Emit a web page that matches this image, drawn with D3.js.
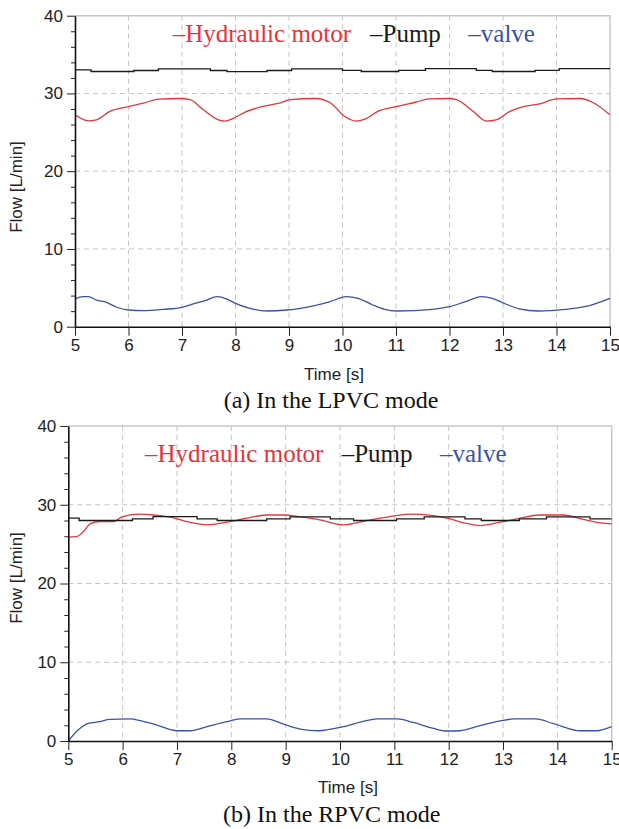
<!DOCTYPE html>
<html>
<head>
<meta charset="utf-8">
<script src="https://cdn.jsdelivr.net/npm/d3@7"></script>
<style>
  body { margin: 0; background: #fff; }
  svg { display: block; }
  .tick text { font-family: 'Liberation Sans', Arial, sans-serif; font-size: 17px; fill: #222; }
</style>
</head>
<body>
<svg id="chart" width="619" height="829"></svg>
<script>
// time axis ticks [s] and flow ticks [L/min]
const timeTicks = [5, 6, 7, 8, 9, 10, 11, 12, 13, 14, 15]
const flowTicks = [0, 10, 20, 30, 40]
const flowMinorTicks = [2, 4, 6, 8, 12, 14, 16, 18, 22, 24, 26, 28, 32, 34, 36, 38]
const seriesNames = ['Hydraulic motor', 'Pump', 'valve']
const seriesColors = ['#e8333b', '#1a1a1a', '#3a52a6']

// (a) LPVC mode, [time, flow]
const lpvcMotor = [[5.0,27.25],[5.25,26.47],[5.4,26.6],[5.65,27.7],[6.0,28.3],[6.28,28.75],[6.56,29.27],[6.97,29.35],[7.15,29.2],[7.4,27.9],[7.68,26.6],[7.8,26.45],[7.96,26.8],[8.18,27.6],[8.52,28.35],[8.84,28.8],[9.03,29.2],[9.49,29.35],[9.77,28.8],[10.05,27.0],[10.26,26.45],[10.45,26.8],[10.66,27.7],[11.0,28.3],[11.38,28.9],[11.62,29.3],[11.98,29.35],[12.13,29.2],[12.44,27.7],[12.69,26.45],[12.87,26.6],[13.13,27.7],[13.38,28.3],[13.69,28.65],[14.0,29.3],[14.44,29.35],[14.69,28.8],[15.0,27.25]]
const lpvcPump = [[5.0,33.03],[5.3,32.82],[6.1,32.95],[6.56,33.17],[7.53,32.95],[7.84,32.8],[8.59,32.95],[9.05,33.17],[10.0,32.98],[10.35,32.82],[11.05,32.98],[11.55,33.2],[12.5,32.98],[12.8,32.82],[13.6,32.98],[14.05,33.2],[15.0,33.2]]
const lpvcValve = [[5.0,3.56],[5.15,3.86],[5.25,3.86],[5.4,3.43],[5.59,3.14],[5.78,2.5],[6.0,2.15],[6.28,2.06],[6.65,2.23],[7.0,2.5],[7.21,2.92],[7.46,3.43],[7.65,3.86],[7.84,3.56],[8.0,3.0],[8.27,2.36],[8.59,2.02],[8.96,2.15],[9.21,2.36],[9.5,2.75],[9.77,3.22],[10.07,3.86],[10.29,3.65],[10.57,2.79],[10.79,2.23],[11.0,2.02],[11.69,2.23],[12.0,2.57],[12.3,3.22],[12.6,3.86],[12.8,3.65],[13.05,2.92],[13.3,2.3],[13.67,2.02],[14.16,2.23],[14.53,2.57],[15.0,3.65]]

// (b) RPVC mode
const rpvcMotor = [[5.0,25.88],[5.15,25.96],[5.28,26.6],[5.4,27.57],[5.58,27.87],[5.83,27.87],[6.0,28.5],[6.32,28.8],[6.56,28.7],[6.87,28.42],[7.18,27.87],[7.55,27.45],[7.92,27.79],[8.28,28.3],[8.65,28.7],[8.96,28.7],[9.27,28.45],[9.63,28.08],[10.06,27.45],[10.49,28.0],[11.04,28.63],[11.28,28.8],[11.72,28.63],[12.03,28.2],[12.28,27.7],[12.58,27.36],[12.95,27.79],[13.25,28.2],[13.68,28.7],[14.11,28.7],[14.48,28.15],[14.79,27.7],[15.0,27.58]]
const rpvcPump = [[5.0,28.3],[5.2,28.0],[6.18,28.2],[6.56,28.5],[7.37,28.2],[7.74,28.0],[8.65,28.2],[9.08,28.45],[9.82,28.2],[10.25,28.0],[11.04,28.2],[11.55,28.45],[12.3,28.2],[12.6,28.0],[13.3,28.2],[13.8,28.45],[14.6,28.2],[15.0,28.2]]
const rpvcValve = [[5.0,0],[5.18,1.4],[5.37,2.25],[5.58,2.45],[5.76,2.75],[6.14,2.8],[6.32,2.6],[6.63,2.03],[7.0,1.3],[7.24,1.3],[7.55,1.82],[7.92,2.45],[8.16,2.8],[8.65,2.8],[8.96,2.15],[9.27,1.52],[9.6,1.3],[10.06,1.82],[10.49,2.6],[10.7,2.8],[11.05,2.8],[11.35,2.35],[11.72,1.6],[11.96,1.27],[12.2,1.3],[12.58,1.95],[12.95,2.55],[13.2,2.8],[13.6,2.8],[13.93,2.2],[14.42,1.3],[14.72,1.3],[15.0,1.82]]

const panels = [
  { left: 75, right: 610, top: 15.7, bottom: 326.7,
    legendX: [172.7, 370, 468.3], legendY: 42,
    flowLabelY: 187, timeX: 334, timeY: 380, caption: '(a) In the LPVC mode', captionX: 331, captionY: 408,
    series: [lpvcMotor, lpvcPump, lpvcValve] },
  { left: 68.3, right: 611.7, top: 426, bottom: 741,
    legendX: [145, 341.7, 440], legendY: 462,
    flowLabelY: 578, timeX: 348, timeY: 793, caption: '(b) In the RPVC mode', captionX: 331.7, captionY: 822,
    series: [rpvcMotor, rpvcPump, rpvcValve] }
]

const svg = d3.select('#chart')

panels.forEach(p => {
  const x = d3.scaleLinear().domain([5, 15]).range([p.left, p.right])
  const y = d3.scaleLinear().domain([0, 40]).range([p.bottom, p.top])
  const g = svg.append('g')

  // grid
  g.append('g').selectAll('line.vg').data(timeTicks.slice(1, -1))
    .enter().append('line')
      .attr('x1', d => x(d)).attr('x2', d => x(d))
      .attr('y1', p.top).attr('y2', p.bottom)
      .attr('stroke', '#c4c4c4').attr('stroke-dasharray', '5,4')
  g.append('g').selectAll('line.hg').data(flowTicks.slice(1, -1))
    .enter().append('line')
      .attr('x1', p.left).attr('x2', p.right)
      .attr('y1', d => y(d)).attr('y2', d => y(d))
      .attr('stroke', '#c4c4c4').attr('stroke-dasharray', '5,4')

  // top / right frame
  g.append('path')
    .attr('d', `M${p.left},${y(40)}H${x(15)}V${p.bottom}`)
    .attr('fill', 'none').attr('stroke', '#c8c8c8').attr('stroke-width', 1.5)

  // series
  const curves = [d3.curveMonotoneX, d3.curveStepAfter, d3.curveMonotoneX]
  p.series.forEach((s, i) => {
    const line = d3.line().x(d => x(d[0])).y(d => y(d[1])).curve(curves[i])
    g.append('path').datum(s)
      .attr('d', line)
      .attr('fill', 'none')
      .attr('stroke', seriesColors[i])
      .attr('stroke-width', 1.3)
  })

  // axes
  g.append('g')
    .attr('transform', `translate(${p.left},0)`)
    .call(d3.axisLeft(y).tickValues(flowMinorTicks).tickSize(4).tickFormat(''))
    .call(a => a.select('.domain').remove())
  g.append('g')
    .attr('transform', `translate(${p.left},0)`)
    .call(d3.axisLeft(y).tickValues(flowTicks).tickSize(8).tickPadding(4).tickSizeOuter(0))
  g.append('g')
    .attr('transform', `translate(0,${p.bottom})`)
    .call(d3.axisBottom(x).tickValues(timeTicks).tickSize(9).tickPadding(3).tickSizeOuter(0))
  g.selectAll('.domain').attr('stroke', '#111').attr('stroke-width', 1.6)
  g.selectAll('.tick line').attr('stroke', '#222')

  // axis titles
  g.append('text')
    .attr('transform', `translate(22,${p.flowLabelY}) rotate(-90)`)
    .attr('text-anchor', 'middle')
    .attr('font-family', "'Liberation Sans', Arial, sans-serif")
    .attr('font-size', 17).attr('fill', '#222')
    .text('Flow [L/min]')
  g.append('text')
    .attr('x', p.timeX).attr('y', p.timeY)
    .attr('text-anchor', 'middle')
    .attr('font-family', "'Liberation Sans', Arial, sans-serif")
    .attr('font-size', 17).attr('fill', '#222')
    .text('Time [s]')

  // legend
  g.append('g').selectAll('text').data(seriesNames)
    .enter().append('text')
      .attr('x', (d, i) => p.legendX[i]).attr('y', p.legendY)
      .attr('font-family', "'Liberation Serif', 'Times New Roman', serif")
      .attr('font-size', 25)
      .attr('fill', (d, i) => seriesColors[i])
      .text(d => '\u2013' + d)

  // caption
  g.append('text')
    .attr('x', p.captionX).attr('y', p.captionY)
    .attr('text-anchor', 'middle')
    .attr('font-family', "'Liberation Serif', 'Times New Roman', serif")
    .attr('font-size', 24).attr('fill', '#111')
    .text(p.caption)
})
</script>
</body>
</html>
